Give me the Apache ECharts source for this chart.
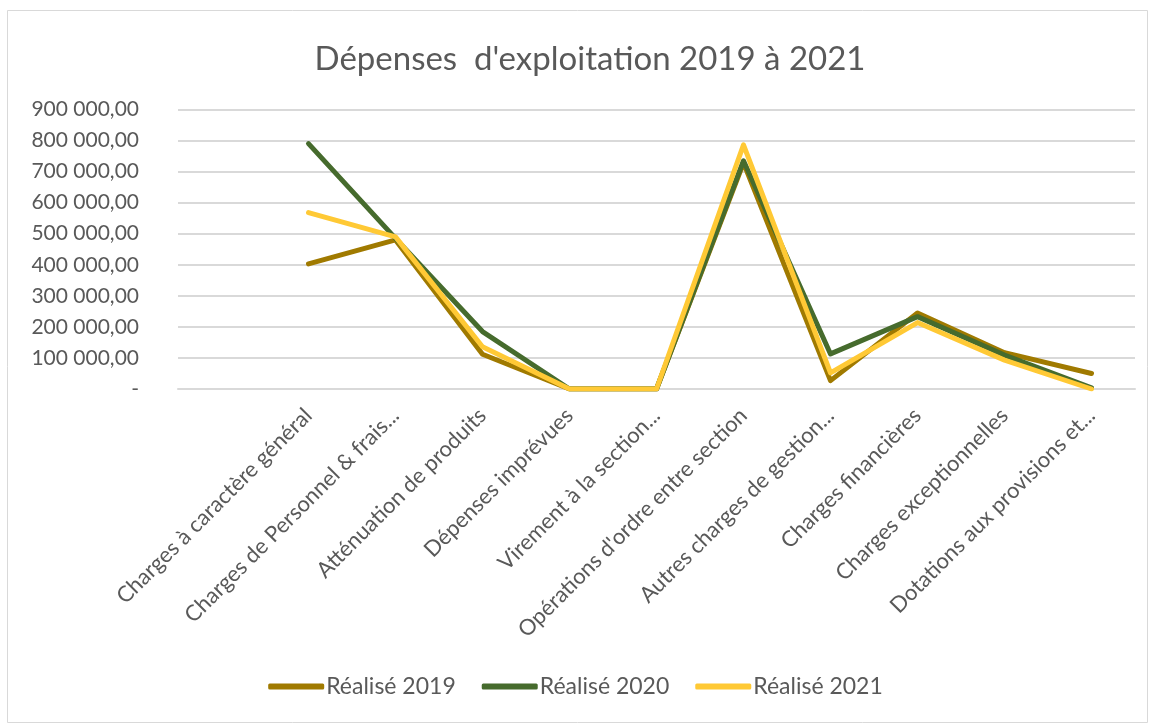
<!DOCTYPE html>
<html>
<head>
<meta charset="utf-8">
<script src="https://cdn.jsdelivr.net/npm/echarts@6/dist/echarts.min.js"></script>
<style>
  html, body { margin: 0; padding: 0; background: #ffffff; }
  #chart { width: 1151px; height: 724px; }
</style>
</head>
<body>
<div id="chart"></div>
<script>
// Operating expenses by chapter, 2019–2021 (first slot is an empty category)
const categories = [
  '',
  'Charges à caractère général',
  'Charges de Personnel & frais...',
  'Atténuation de produits',
  'Dépenses imprévues',
  'Virement à la section...',
  "Opérations d'ordre entre section",
  'Autres charges de gestion...',
  'Charges financières',
  'Charges exceptionnelles',
  'Dotations aux provisions et...'
];
const seriesNames = ['Réalisé 2019', 'Réalisé 2020', 'Réalisé 2021'];
const realise2019 = [null, 403000, 480000, 112000, 0, 0, 728000, 27000, 245000, 117000, 50000];
const realise2020 = [null, 790000, 485000, 185000, 0, 0, 735000, 113000, 233000, 109000, 4000];
const realise2021 = [null, 568000, 490000, 136000, 0, 0, 786000, 52000, 214000, 93000, 0];
const yTicks = [0, 100000, 200000, 300000, 400000, 500000, 600000, 700000, 800000, 900000];
const colors = ['#A07A00', '#466B2D', '#FFC935'];

const textColor = '#595959';
const fontFamily = 'Lato, "Open Sans", sans-serif';

function formatValue(v) {
  if (v === 0) return '-';
  const s = Math.round(v).toString().replace(/\B(?=(\d{3})+(?!\d))/g, ' ');
  return s + ',00';
}

const chart = echarts.init(document.getElementById('chart'), null, { renderer: 'canvas' });

const lineSeries = [realise2019, realise2020, realise2021].map((data, i) => ({
  name: seriesNames[i],
  type: 'line',
  data: data,
  symbol: 'none',
  smooth: false,
  connectNulls: false,
  lineStyle: { color: colors[i], width: 5, cap: 'round', join: 'round' },
  itemStyle: { color: colors[i] },
  z: 2 + i
}));

chart.setOption({
  backgroundColor: '#ffffff',
  animation: false,
  title: {
    text: "Dépenses  d'exploitation 2019 à 2021",
    left: 585,
    textAlign: 'center',
    top: 38,
    textStyle: { color: textColor, fontFamily: fontFamily, fontSize: 33, fontWeight: 'normal' }
  },
  graphic: [{
    type: 'rect',
    shape: { x: 7.5, y: 10.5, width: 1140, height: 712 },
    style: { fill: 'none', stroke: '#d9d9d9', lineWidth: 1 },
    silent: true,
    z: -1
  }],
  legend: {
    bottom: 21,
    left: 'center',
    itemWidth: 56,
    itemHeight: 6,
    itemGap: 26,
    icon: 'roundRect',
    data: seriesNames,
    textStyle: { color: textColor, fontFamily: fontFamily, fontSize: 23, padding: [0, 0, 0, -3] }
  },
  grid: { left: 178, right: 16, top: 109.5, bottom: 335, containLabel: false },
  xAxis: {
    type: 'category',
    data: categories,
    boundaryGap: true,
    axisLine: { show: true, lineStyle: { color: '#d9d9d9', width: 2 } },
    axisTick: { show: false },
    axisLabel: {
      rotate: 45,
      interval: 0,
      margin: 23,
      color: textColor,
      fontFamily: fontFamily,
      fontSize: 22
    }
  },
  yAxis: {
    type: 'value',
    min: yTicks[0],
    max: yTicks[yTicks.length - 1],
    interval: yTicks[1] - yTicks[0],
    axisLine: { show: false },
    axisTick: { show: false },
    splitLine: { lineStyle: { color: '#d9d9d9', width: 2 } },
    axisLabel: {
      margin: 39,
      color: textColor,
      fontFamily: fontFamily,
      fontSize: 21,
      formatter: formatValue
    }
  },
  series: lineSeries
});
</script>
</body>
</html>
